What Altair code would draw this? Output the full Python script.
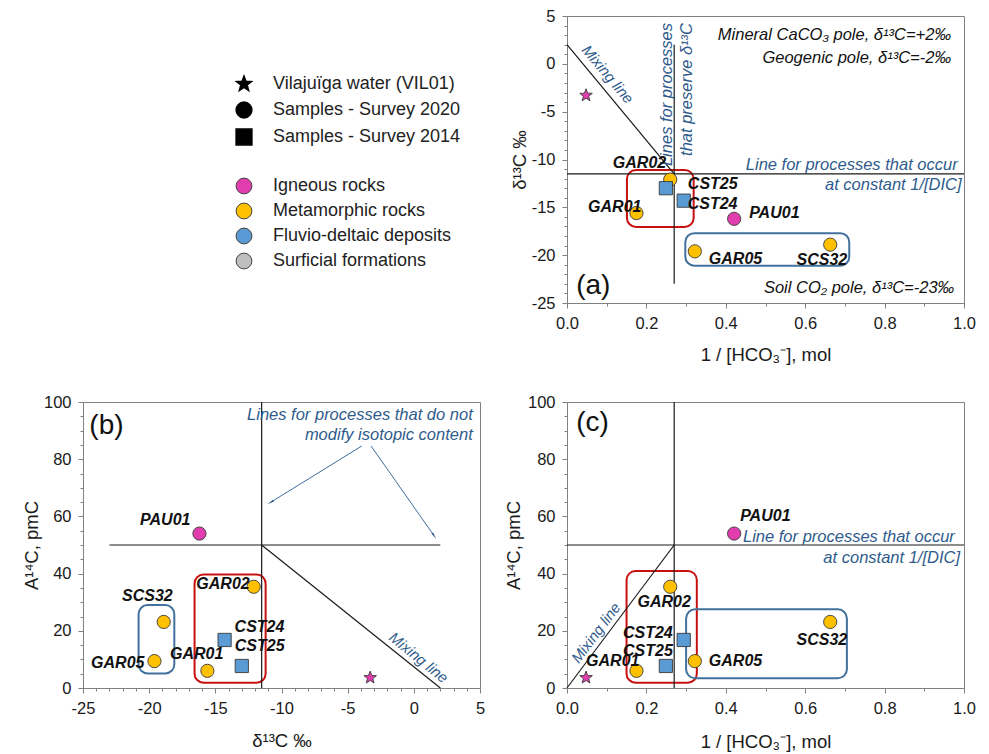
import math
import altair as alt
import pandas as pd

# ---------------- data ----------------
sample_names = ["VIL01", "GAR01", "GAR02", "GAR05", "SCS32", "PAU01", "CST24", "CST25"]
sample_rock = ["Igneous rocks", "Metamorphic rocks", "Metamorphic rocks", "Metamorphic rocks",
               "Metamorphic rocks", "Igneous rocks", "Fluvio-deltaic deposits", "Fluvio-deltaic deposits"]
sample_survey = ["Vilajuïga water (VIL01)", "Samples - Survey 2020", "Samples - Survey 2020",
                 "Samples - Survey 2020", "Samples - Survey 2020", "Samples - Survey 2020",
                 "Samples - Survey 2014", "Samples - Survey 2014"]
inv_hco3 = [0.048, 0.175, 0.260, 0.322, 0.663, 0.421, 0.294, 0.249]
delta13c = [-3.3, -15.6, -12.1, -19.6, -18.9, -16.2, -14.3, -13.0]
a14c = [3.6, 6.0, 35.4, 9.4, 23.1, 54.0, 16.8, 7.7]

rock_types = ["Igneous rocks", "Metamorphic rocks", "Fluvio-deltaic deposits", "Surficial formations"]
survey_types = ["Vilajuïga water (VIL01)", "Samples - Survey 2020", "Samples - Survey 2014"]

hco3_ticks = [0.0, 0.1, 0.2, 0.3, 0.4, 0.5, 0.6, 0.7, 0.8, 0.9, 1.0]
d13c_ticks = [-25, -24, -23, -22, -21, -20, -19, -18, -17, -16, -15, -14, -13, -12, -11, -10,
              -9, -8, -7, -6, -5, -4, -3, -2, -1, 0, 1, 2, 3, 4, 5]
a14c_ticks = [0, 5, 10, 15, 20, 25, 30, 35, 40, 45, 50, 55, 60, 65, 70, 75, 80, 85, 90, 95, 100]

# reference lines (mixing line, vertical, horizontal)
a_line_x = [0.0, 0.27, 0.0]
a_line_x2 = [0.27, 0.27, 1.0]
a_line_y = [2.0, 2.0, -11.5]
a_line_y2 = [-11.5, -23.0, -11.5]

b_line_x = [-11.5, -11.5, -23.0]
b_line_x2 = [2.0, -11.5, 2.0]
b_line_y = [50.0, 0.0, 50.0]
b_line_y2 = [0.0, 100.0, 50.0]

c_line_x = [0.0, 0.27, 0.0]
c_line_x2 = [0.27, 0.27, 1.0]
c_line_y = [0.0, 0.0, 50.0]
c_line_y2 = [50.0, 100.0, 50.0]

# sample groups (rounded boxes)
box_groups = ["Group 1", "Group 2"]
a_box_x = [0.151, 0.298]
a_box_x2 = [0.319, 0.711]
a_box_y = [-11.1, -17.7]
a_box_y2 = [-17.05, -21.1]
b_box_x = [-16.57, -20.8]
b_box_x2 = [-11.2, -18.1]
b_box_y = [39.7, 29.0]
b_box_y2 = [1.85, 5.1]
c_box_x = [0.150, 0.300]
c_box_x2 = [0.327, 0.705]
c_box_y = [40.9, 27.5]
c_box_y2 = [1.85, 3.4]

# arrows in panel (b)
b_arrow_x = [-3.94, -3.23]
b_arrow_y = [84.6, 84.6]
b_arrow_x2 = [-10.76, 1.49]
b_arrow_y2 = [65.1, 53.5]

# ---------------- styling ----------------
W = 397
HT = 287
HB = 286
FONT = "Liberation Sans"
ROCK_COLORS = ["#E23DAF", "#FFC000", "#5B9BD5", "#BFBFBF"]
BOX_COLORS = ["#C81010", "#41719C"]
NOTE_BLUE = "#2F5B8C"
LINE_COL = "#1a1a1a"
LABEL_FS = 16
NOTE_FS = 16.5

star_pts = []
for k in range(10):
    r = 1.0 if k % 2 == 0 else 0.42
    ang = math.radians(-90 + 36 * k)
    star_pts.append(f"{r * math.cos(ang):.4f},{r * math.sin(ang):.4f}")
STAR = "M" + " L".join(star_pts) + " Z"

color_scale = alt.Scale(domain=rock_types, range=ROCK_COLORS)
shape_scale = alt.Scale(domain=survey_types, range=[STAR, "circle", "square"])
box_scale = alt.Scale(domain=box_groups, range=BOX_COLORS)

samples = pd.DataFrame({
    "name": sample_names, "rock": sample_rock, "survey": sample_survey,
    "hco3": inv_hco3, "d13c": delta13c, "a14c": a14c,
})

sx_hco3 = alt.Scale(domain=[0, 1], nice=False, zero=False)
s_d13c = alt.Scale(domain=[-25, 5], nice=False, zero=False)
sy_a14c = alt.Scale(domain=[0, 100], nice=False, zero=False)

T_HCO3 = "abs(round(datum.value*100)) % 20 == 0"
T_D13C = "abs(round(datum.value)) % 5 == 0"
T_A14C = "abs(round(datum.value)) % 20 == 0"


def x_axis(values, test, fmt, title, title_y):
    return alt.Axis(values=values, labelExpr=f"{test} ? {fmt} : ''",
                    tickSize={"condition": {"test": test, "value": 5}, "value": 3},
                    title=title, titleX=W / 2, titleY=title_y, titleAngle=0,
                    titleAlign="center", titleBaseline="middle",
                    labelFlush=False, labelOverlap=False)


def y_axis(values, test, fmt, title, title_x, h):
    return alt.Axis(values=values, labelExpr=f"{test} ? {fmt} : ''",
                    tickSize={"condition": {"test": test, "value": 5}, "value": 3},
                    title=title, titleX=title_x, titleY=h / 2, titleAngle=270,
                    titleAlign="center", titleBaseline="middle",
                    labelFlush=False, labelOverlap=False)


FMT_HCO3 = "format(datum.value, '.1f')"
FMT_INT = "'' + round(datum.value)"
TITLE_HCO3 = "1 / [HCO₃⁻], mol"
TITLE_D13C = "δ¹³C ‰"
TITLE_A14C = "A¹⁴C, pmC"


def build_panel(xf, yf, sx, sy, ax, ay, lines, boxes, labels, notes, h, extra=None):
    def X(f):
        return alt.X(f, type="quantitative", scale=sx, axis=ax)

    def Y(f):
        return alt.Y(f, type="quantitative", scale=sy, axis=ay)

    layers = []
    bdf = pd.DataFrame({"x": boxes[0], "x2": boxes[1], "y": boxes[2], "y2": boxes[3], "group": box_groups})
    layers.append(alt.Chart(bdf).mark_rect(cornerRadius=9, fillOpacity=0, strokeWidth=2).encode(
        x=X("x"), x2="x2", y=Y("y"), y2="y2",
        stroke=alt.Stroke("group:N", scale=box_scale, legend=None)))
    ldf = pd.DataFrame({"x": lines[0], "x2": lines[1], "y": lines[2], "y2": lines[3]})
    layers.append(alt.Chart(ldf).mark_rule(color=LINE_COL, strokeWidth=1.2).encode(
        x=X("x"), x2="x2", y=Y("y"), y2="y2"))
    if extra is not None:
        layers.extend(extra(X, Y))
    layers.append(alt.Chart(samples).mark_point(filled=True, size=175, stroke="#3a3a3a",
                                                strokeWidth=0.9, opacity=1).encode(
        x=X(xf), y=Y(yf),
        color=alt.Color("rock:N", scale=color_scale, legend=None),
        shape=alt.Shape("survey:N", scale=shape_scale, legend=None)))
    for texts, xs, ys, style in notes:
        ndf = pd.DataFrame({"x": xs, "y": ys, "t": texts})
        layers.append(alt.Chart(ndf).mark_text(font=FONT, baseline="middle", **style).encode(
            x=X("x"), y=Y("y"), text="t:N"))
    for name, align, dx, dy in labels:
        layers.append(alt.Chart(samples).transform_filter(alt.datum.name == name).mark_text(
            align=align, dx=dx, dy=dy, baseline="middle", font=FONT, fontSize=LABEL_FS,
            fontStyle="italic", fontWeight="bold", color="#111111").encode(
            x=X(xf), y=Y(yf), text="name:N"))
    return alt.layer(*layers).properties(width=W, height=h)


BLACK_IT = dict(fontSize=NOTE_FS, fontStyle="italic", color="#111111", align="right")
BLUE_IT = dict(fontSize=NOTE_FS, fontStyle="italic", color=NOTE_BLUE, align="right")
TAG = dict(fontSize=28, color="#111111", align="left")
MIX = dict(fontSize=15, fontStyle="italic", color=NOTE_BLUE, align="center")

# ---- panel (a) ----
ax_a = x_axis(hco3_ticks, T_HCO3, FMT_HCO3, TITLE_HCO3, 51)
ay_a = y_axis(d13c_ticks, T_D13C, FMT_INT, TITLE_D13C, -48, HT)
notes_a = [
    (["Mineral CaCO₃ pole, δ¹³C=+2‰", "Geogenic pole, δ¹³C=-2‰", "Soil CO₂ pole, δ¹³C=-23‰"],
     [0.967, 0.967, 0.975], [2.98, 0.64, -23.4], BLACK_IT),
    (["Line for processes that occur", "at constant 1/[DIC]"], [0.984, 0.994], [-10.6, -12.7], BLUE_IT),
    (["Lines for processes", "that preserve δ¹³C"], [0.251, 0.3015], [4.27, 4.27],
     dict(BLUE_IT, angle=270)),
    (["Mixing line"], [0.1025], [-1.1], dict(MIX, angle=50)),
    (["(a)"], [0.023], [-23.2], TAG),
]
labels_a = [("GAR02", "right", -4, -17), ("CST25", "left", 22, -4), ("CST24", "left", 4, 3),
            ("GAR01", "right", 5, -6), ("PAU01", "left", 15, -6), ("GAR05", "left", 14, 8),
            ("SCS32", "right", 17, 15)]
panel_a = build_panel("hco3", "d13c", sx_hco3, s_d13c, ax_a, ay_a,
                      (a_line_x, a_line_x2, a_line_y, a_line_y2),
                      (a_box_x, a_box_x2, a_box_y, a_box_y2), labels_a, notes_a, HT)

# ---- panel (b) ----
ax_b = x_axis(d13c_ticks, T_D13C, FMT_INT, TITLE_D13C, 52)
ay_b = y_axis(a14c_ticks, T_A14C, FMT_INT, TITLE_A14C, -52, HB)
notes_b = [
    (["Lines for processes that do not", "modify isotopic content"], [4.45, 4.45], [95.5, 88.5], BLUE_IT),
    (["Mixing line"], [0.36], [10.6], dict(MIX, angle=39)),
    (["(b)"], [-24.52], [91.6], TAG),
]
labels_b = [("GAR02", "right", -4, -3), ("SCS32", "right", 9, -26), ("GAR05", "right", -10, 2),
            ("CST24", "left", 10, -13), ("CST25", "left", -7, -20), ("GAR01", "right", 16, -17),
            ("PAU01", "right", -9, -14)]

arrow_angle = []
for i in range(len(b_arrow_x)):
    dxp = (b_arrow_x2[i] - b_arrow_x[i]) * W / 30.0
    dyp = -(b_arrow_y2[i] - b_arrow_y[i]) * HB / 100.0
    arrow_angle.append(math.degrees(math.atan2(dxp, -dyp)) % 360)
arrows = pd.DataFrame({"x": b_arrow_x, "y": b_arrow_y, "x2": b_arrow_x2, "y2": b_arrow_y2,
                       "angle": arrow_angle})


def arrow_layers(X, Y):
    return [
        alt.Chart(arrows).mark_rule(color="#3C6E9E", strokeWidth=1).encode(
            x=X("x"), x2="x2", y=Y("y"), y2="y2"),
        alt.Chart(arrows).mark_point(shape="wedge", filled=True, size=70, color="#2F5B8C",
                                     opacity=1).encode(
            x=X("x2"), y=Y("y2"), angle=alt.Angle("angle:Q", scale=None)),
    ]


panel_b = build_panel("d13c", "a14c", s_d13c, sy_a14c, ax_b, ay_b,
                      (b_line_x, b_line_x2, b_line_y, b_line_y2),
                      (b_box_x, b_box_x2, b_box_y, b_box_y2), labels_b, notes_b, HB,
                      extra=arrow_layers)

# ---- panel (c) ----
ax_c = x_axis(hco3_ticks, T_HCO3, FMT_HCO3, TITLE_HCO3, 53)
ay_c = y_axis(a14c_ticks, T_A14C, FMT_INT, TITLE_A14C, -54, HB)
notes_c = [
    (["Line for processes that occur", "at constant 1/[DIC]"], [0.977, 0.99], [52.8, 45.6], BLUE_IT),
    (["Mixing line"], [0.073], [19.3], dict(MIX, angle=307)),
    (["(c)"], [0.023], [92.8], TAG),
]
labels_c = [("GAR02", "center", -6, 15), ("CST24", "right", -11, -7), ("CST25", "right", 7, -15),
            ("GAR01", "right", 3, -10), ("GAR05", "left", 14, 0), ("SCS32", "right", 17, 18),
            ("PAU01", "left", 6, -18)]
panel_c = build_panel("hco3", "a14c", sx_hco3, sy_a14c, ax_c, ay_c,
                      (c_line_x, c_line_x2, c_line_y, c_line_y2),
                      (c_box_x, c_box_x2, c_box_y, c_box_y2), labels_c, notes_c, HB)

# ---- legend cell ----
legend_common = dict(orient="none", title=None, symbolSize=250, labelFont=FONT, labelFontSize=18,
                     labelColor="#222222", labelOffset=20, rowPadding=5, padding=0,
                     labelLimit=400, symbolOpacity=1, legendX=152)
legend_cell = alt.Chart(samples).mark_point(filled=True, opacity=0).encode(
    x=alt.value(0), y=alt.value(0),
    shape=alt.Shape("survey:N", scale=shape_scale,
                    legend=alt.Legend(legendY=59, symbolFillColor="black", symbolStrokeColor="black",
                                      **legend_common)),
    color=alt.Color("rock:N", scale=color_scale,
                    legend=alt.Legend(legendY=161, symbolType="circle", symbolStrokeColor="#444444",
                                      symbolStrokeWidth=1, **legend_common)),
).properties(width=W, height=HT, view=alt.ViewBackground(strokeOpacity=0))

chart = alt.concat(legend_cell, panel_a, panel_b, panel_c, columns=2,
                   spacing={"row": 99, "column": 87}, bounds="flush")
chart = chart.resolve_scale(color="independent", shape="independent", stroke="independent")
chart = chart.resolve_legend(color="independent", shape="independent", stroke="independent")
chart = chart.properties(padding={"left": 21, "top": 7, "right": 6, "bottom": 5}, background="white")
chart = chart.configure_view(stroke="#808080", strokeWidth=1).configure_axis(
    domainColor="#808080", tickColor="#808080", labelFont=FONT, labelFontSize=16.5,
    labelColor="#1a1a1a", labelPadding=7, titleFont=FONT, titleFontSize=18.5,
    titleFontWeight="normal", titleColor="#1a1a1a", grid=False)

chart.save("out.html", embed_options={"renderer": "svg", "actions": False})
